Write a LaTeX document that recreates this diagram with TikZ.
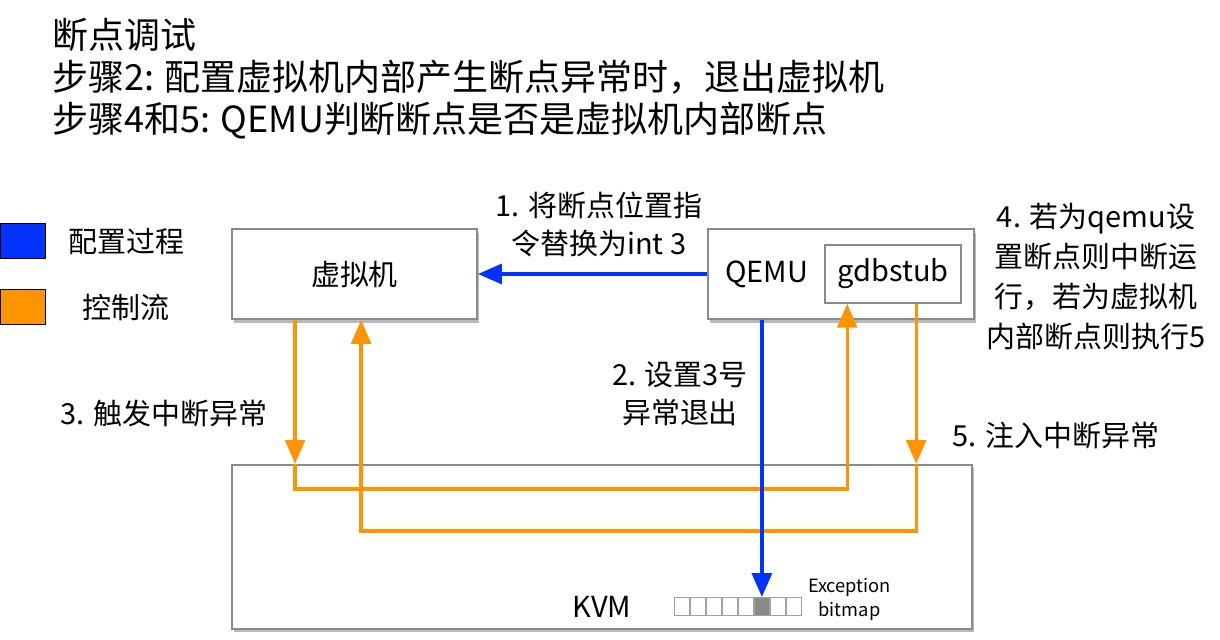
\documentclass[tikz,border=0pt]{standalone}
\usepackage{fontspec}
\setmainfont{Noto Sans CJK SC}
\usepackage{xcolor}
\newlength{\hdist}
\newlength{\vdist}
\usetikzlibrary{positioning}
\usetikzlibrary{arrows.meta}
\usetikzlibrary{shadows}
\usetikzlibrary{calc}
\definecolor{cfgblue}{HTML}{0433FF}
\definecolor{ctrlorange}{HTML}{FF9300}
\definecolor{boxgray}{HTML}{8A8A8A}
\tikzstyle{box}=[draw=boxgray, fill=white, line width=1.3pt, drop shadow={shadow xshift=1.5pt, shadow yshift=-2.5pt, opacity=0.55}]
\tikzstyle{inbox}=[draw=boxgray, fill=white, line width=1.1pt]
\tikzstyle{cell}=[draw=boxgray!80, line width=0.8pt, minimum width=0.37cm, minimum height=0.44cm]
\tikzstyle{key}=[draw=black, line width=0.6pt, minimum width=1.125cm, minimum height=0.875cm]
\tikzstyle{cfg}=[draw=cfgblue, line width=2.8pt, -{Triangle[length=17pt, width=14pt]}]
\tikzstyle{ctrl}=[draw=ctrlorange, line width=2.4pt, -{Triangle[length=17pt, width=14pt]}]
\tikzstyle{lbl}=[align=center, font=\fontsize{20.6pt}{27pt}\selectfont]

\begin{document}
\begin{tikzpicture}[inner sep=0cm, font=\fontsize{20.6pt}{27pt}\selectfont]

	\setlength{\hdist}{5.725cm}
	\setlength{\vdist}{3.6cm}

	\useasboundingbox (0,0) rectangle (30.5,-16);

	\node (title) [anchor=north west, align=left, font=\fontsize{25.6pt}{29.9pt}\selectfont] at (1.3,-0.45)
		{断点调试\\步骤2: 配置虚拟机内部产生断点异常时，退出虚拟机\\步骤4和5: QEMU判断断点是否是虚拟机内部断点};

	% legend
	\node (cfgkey) [key, fill=cfgblue] at (0.575,-6.03) {};
	\node (cfgtext) [right=0.55cm of cfgkey] {配置过程};
	\node (ctrlkey) [key, fill=ctrlorange] at (0.575,-7.68) {};
	\node (ctrltext) [right=0.9cm of ctrlkey] {控制流};

	% boxes
	\node (vm) [box, minimum width=6.125cm, minimum height=2.25cm] at (8.8625,-6.85) {虚拟机};
	\node (qemu) [box, minimum width=6.65cm, minimum height=2.25cm, right=\hdist of vm] {};
	\node (gdbstub) [inbox, minimum width=3.4cm, minimum height=1.45cm, left=0.325cm of qemu.east] {gdbstub};
	\node (qemutext) [right=0.45cm of qemu.west] {QEMU};
	\node (kvm) [box, minimum width=18.5cm, minimum height=4.1cm, below=\vdist of vm.south west, anchor=north west] {};
	\node (kvmtext) [above=0.31cm of kvm.south] {KVM};

	% exception bitmap
	\node (bit0) [cell, right=1.07cm of kvmtext] {};
	\foreach \i/\c [remember=\i as \p (initially 0)] in {1/white,2/white,3/white,4/white,5/boxgray,6/white,7/white}
		\node (bit\i) [cell, fill=\c, right=0pt of bit\p] {};
	\node (bitlabel) [right=0.15cm of bit7, yshift=0.17cm, align=center, font=\fontsize{13pt}{17pt}\selectfont] {Exception\\bitmap};

	% labels
	\node (l1) [lbl] at (14.97,-5.6) {1. 将断点位置指\\令替换为int 3};
	\node (l2) [lbl] at (17.0,-9.85) {2. 设置3号\\异常退出};
	\node (l3) [lbl] at (4.1,-10.33) {3. 触发中断异常};
	\node (l4) [lbl, font=\fontsize{20.6pt}{28.5pt}\selectfont] at (27.4,-6.92) {4. 若为qemu设\\置断点则中断运\\行，若为虚拟机\\内部断点则执行5};
	\node (l5) [lbl] at (26.4,-10.9) {5. 注入中断异常};

	\coordinate (vmout) at ($(vm.south west)+(1.6,0)$);
	\coordinate (vmin) at ($(vm.south west)+(3.25,0)$);
	\coordinate (gdbin) at ($(gdbstub.south west)+(0.575,0)$);
	\coordinate (gdbout) at ($(gdbstub.south west)+(2.3,0)$);

	\draw [ctrl] (vmout) -- (vmout |- kvm.north);
	\draw [ctrl] (vmout |- kvm.north) -- ++(0,-0.625) -| (gdbin);
	\draw [ctrl] (gdbout) -- (gdbout |- kvm.north);
	\draw [ctrl] (gdbout |- kvm.north) -- ++(0,-1.675) -| (vmin);

	\draw [cfg] (qemu.west) -- (vm.east);
	\draw [cfg] (qemu.south -| bit5) -- (bit5.north);
\end{tikzpicture}
\end{document}
